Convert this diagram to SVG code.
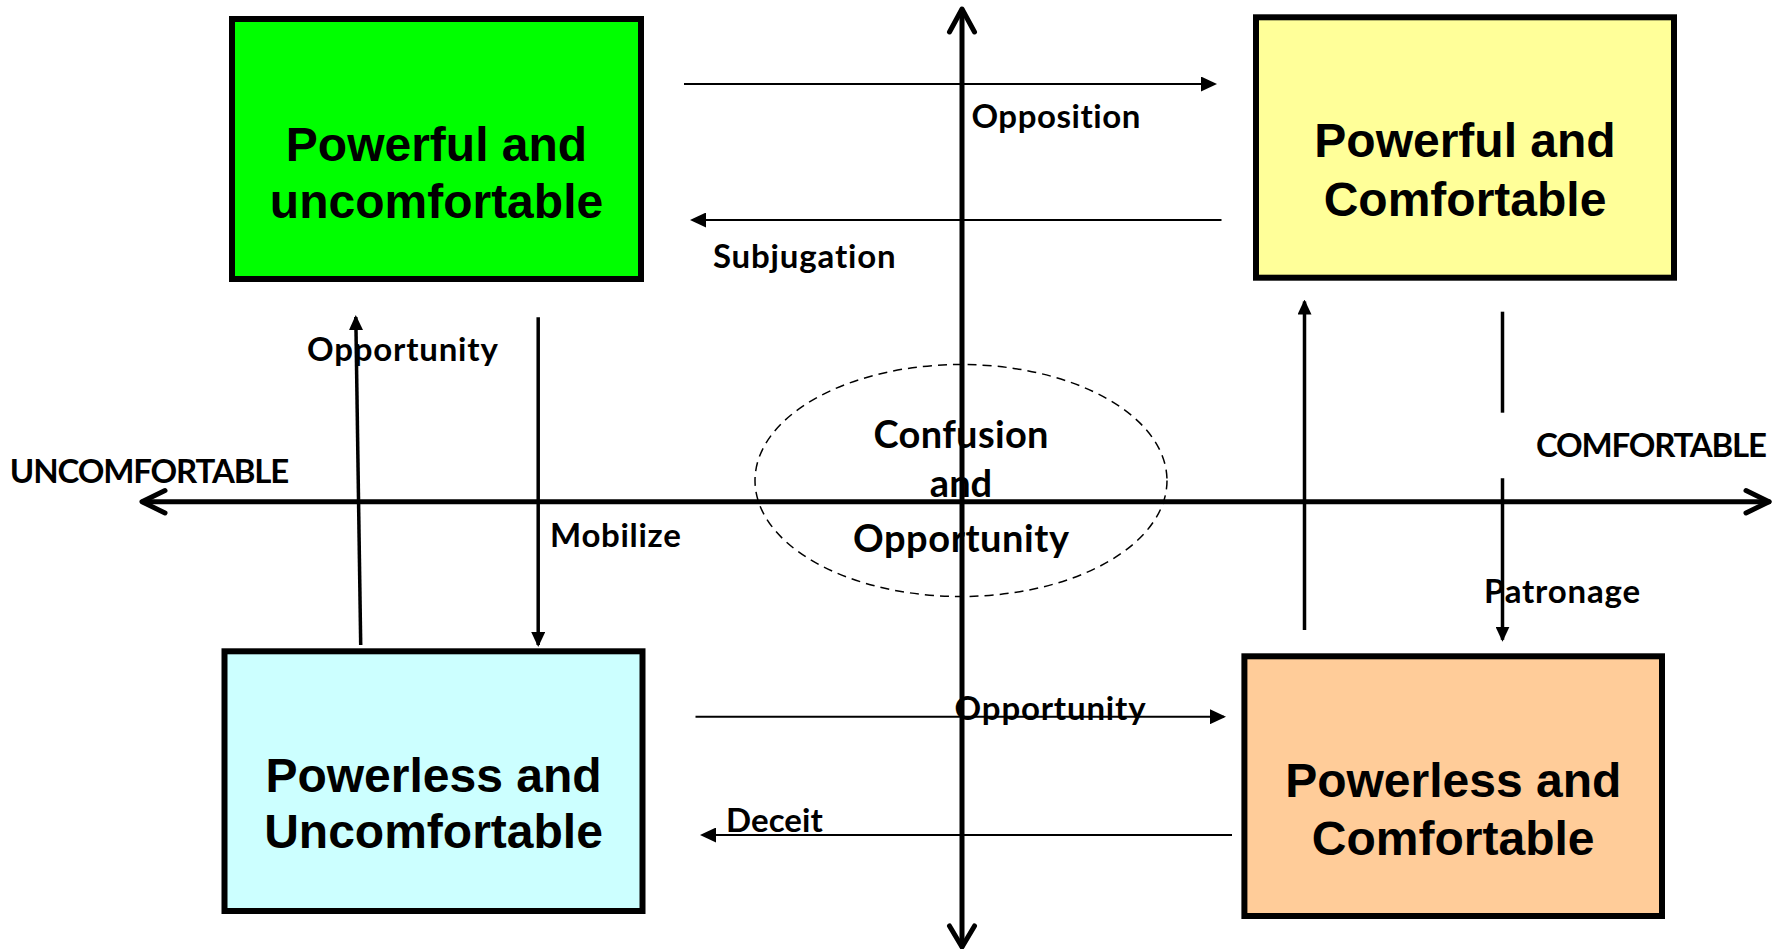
<svg xmlns="http://www.w3.org/2000/svg" width="1782" height="949" viewBox="0 0 1782 949">
<style>
.box{stroke:#000;stroke-width:6}
.bt{font-family:"Liberation Sans",Arial,sans-serif;font-weight:bold;font-size:48px;fill:#000;text-anchor:middle}
.lb{font-family:Lato,"Open Sans",sans-serif;font-weight:bold;font-size:33px;fill:#000;font-variant-ligatures:none}
.big{font-family:Lato,"Open Sans",sans-serif;font-weight:bold;font-size:38px;fill:#000;text-anchor:middle;font-variant-ligatures:none}
.h{stroke:#000;stroke-width:2;fill:none}
.v{stroke:#000;stroke-width:3.5;fill:none}
.ax{stroke:#000;stroke-width:5;fill:none;stroke-linecap:round;stroke-linejoin:round}
</style>
<defs>
<marker id="ah" markerUnits="userSpaceOnUse" viewBox="0 0 16 15" refX="14" refY="7.5" markerWidth="16" markerHeight="15" orient="auto">
<path d="M0,0 L16,7.5 L0,15 z" fill="#000"/>
</marker>
<marker id="av" markerUnits="userSpaceOnUse" viewBox="0 0 15 14" refX="13" refY="7" markerWidth="15" markerHeight="14" orient="auto">
<path d="M0,0 L15,7 L0,14 z" fill="#000"/>
</marker>
</defs>
<rect width="1782" height="949" fill="#fff"/>

<g id="connectors">
<line class="ax" x1="962" y1="10" x2="962" y2="946"/>
<polyline class="ax" points="949.5,32 962,9 974.5,32"/>
<polyline class="ax" points="949.5,926 962,947 974.5,926"/>
<line class="ax" x1="143" y1="501.7" x2="1769" y2="501.7"/>
<polyline class="ax" points="165,490.5 142,501.7 165,513"/>
<polyline class="ax" points="1746,490.5 1769,501.7 1746,513"/>

<line class="h" x1="684" y1="84" x2="1215" y2="84" marker-end="url(#ah)"/>
<line class="h" x1="1221.5" y1="220" x2="692" y2="220" marker-end="url(#ah)"/>
<line class="h" x1="695.5" y1="716.7" x2="1224" y2="716.7" marker-end="url(#ah)"/>
<line class="h" x1="1232" y1="835" x2="702" y2="835" marker-end="url(#ah)"/>

<line class="v" x1="360.7" y1="645" x2="355.8" y2="317" marker-end="url(#av)"/>
<line class="v" x1="538.2" y1="317.3" x2="538.2" y2="645" marker-end="url(#av)"/>
<line class="v" x1="1304.5" y1="630" x2="1304.5" y2="301.5" marker-end="url(#av)"/>
<line class="v" x1="1502.5" y1="311.7" x2="1502.5" y2="412.7"/>
<line class="v" x1="1502.5" y1="478.3" x2="1502.5" y2="639.7" marker-end="url(#av)"/>
</g>

<g id="node-powerful-uncomfortable">
<rect class="box" x="232" y="19" width="409" height="260" fill="#00FF00"/>
<text class="bt" x="436.5" y="160.7">Powerful and</text>
<text class="bt" x="436.5" y="218.3">uncomfortable</text>
</g>

<g id="node-powerful-comfortable">
<rect class="box" x="1256" y="17.3" width="418" height="260.4" fill="#FFFF99"/>
<text class="bt" x="1465" y="157.3">Powerful and</text>
<text class="bt" x="1465" y="216">Comfortable</text>
</g>

<g id="node-powerless-uncomfortable">
<rect class="box" x="224.5" y="651.3" width="418" height="259.7" fill="#CCFFFF"/>
<text class="bt" x="433.5" y="791.7">Powerless and</text>
<text class="bt" x="433.5" y="848.3">Uncomfortable</text>
</g>

<g id="node-powerless-comfortable">
<rect class="box" x="1244.4" y="656.3" width="417.6" height="259.7" fill="#FFCC99"/>
<text class="bt" x="1453.2" y="796.7">Powerless and</text>
<text class="bt" x="1453.2" y="855">Comfortable</text>
</g>

<g id="node-confusion">
<ellipse cx="961" cy="480.5" rx="206" ry="116" fill="none" stroke="#000" stroke-width="1.5" stroke-dasharray="9 6"/>
<text class="big" x="961" y="448.3" textLength="175">Confusion</text>
<text class="big" x="961" y="496.7">and</text>
<text class="big" x="961" y="551.7" textLength="216">Opportunity</text>
</g>

<g id="labels">
<text class="lb" x="971.4" y="128.3" textLength="169">Opposition</text>
<text class="lb" x="712.9" y="268" textLength="182.8">Subjugation</text>
<text class="lb" x="9.8" y="483.3" textLength="279.5">UNCOMFORTABLE</text>
<text class="lb" x="1536" y="456.7" textLength="231">COMFORTABLE</text>
<text class="lb" x="307" y="361" textLength="190.8">Opportunity</text>
<text class="lb" x="550" y="546.7" textLength="130.8">Mobilize</text>
<text class="lb" x="1484" y="603.3" textLength="156">Patronage</text>
<text class="lb" x="954.6" y="720" textLength="191">Opportunity</text>
<text class="lb" x="725.9" y="831.7" textLength="97">Deceit</text>
</g>
</svg>
